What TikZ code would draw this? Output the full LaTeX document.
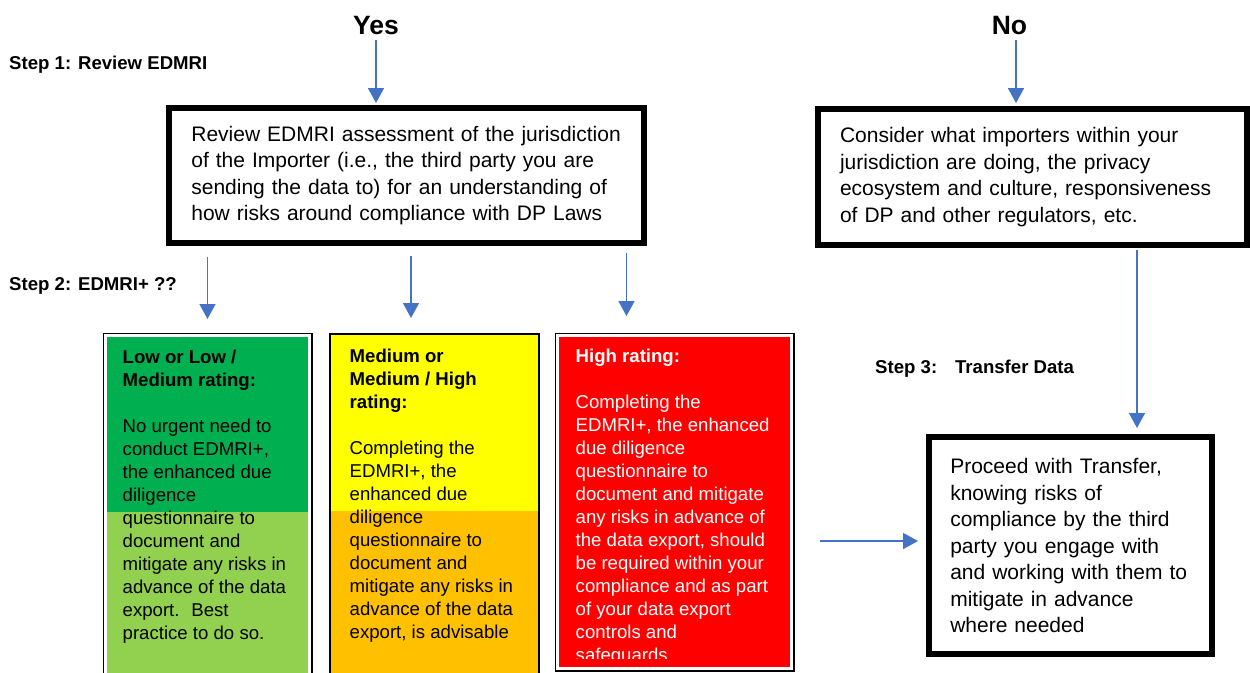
\documentclass[tikz,border=0pt]{standalone}
\usepackage{fontspec}
\setmainfont{Liberation Sans}
\usetikzlibrary{
  positioning,
  calc,
  arrows.meta}
\definecolor{lowdark}{RGB}{0,176,80}
\definecolor{lowlight}{RGB}{146,208,80}
\definecolor{midtop}{RGB}{255,255,0}
\definecolor{midlow}{RGB}{255,192,0}
\definecolor{highred}{RGB}{255,0,0}
\definecolor{flowcolor}{RGB}{68,114,196}
\tikzset{
  %% answer : the Yes / No headings
  answer/.style={
    font=\fontsize{26.5}{32}\selectfont\bfseries,
    anchor=base,
    inner sep=0pt
  },
  %% steplabel : the step captions
  steplabel/.style={
    font=\fontsize{18.6}{23}\selectfont\bfseries,
    anchor=base west,
    inner sep=0pt
  },
  %% taskbox : white box with a heavy frame
  taskbox/.style={
    rectangle,
    draw=black,
    line width=6pt,
    fill=white,
    align=left,
    inner sep=0pt,
    font=\fontsize{21}{26.5}\selectfont
  },
  %% ratebox : coloured rating box
  ratebox/.style={
    rectangle,
    anchor=north west,
    inner sep=0pt,
    outer sep=0pt
  },
  %% framed : thin black frame outside a white rim
  framed/.style={
    preaction={draw=black, line width=6pt},
    draw=white,
    line width=3pt
  },
  %% split : lower part of a rating box in a second colour
  split/.style 2 args={
    path picture={
      \fill [#1] ([yshift=-#2]path picture bounding box.north west)
      rectangle (path picture bounding box.south east);
    }
  },
  %% ratetext : text inside a rating box
  ratetext/.style={
    align=left,
    inner sep=0pt,
    font=\fontsize{18.6}{23}\selectfont
  },
  %% flow : blue connector
  flow/.style={
    draw=flowcolor,
    line width=1.5pt,
    -{Triangle[width=16pt, length=15pt]}
  }
}

\begin{document}
\begin{tikzpicture}
  [x=1pt,
  y=-1pt]
  \useasboundingbox (0, 0) rectangle (1250, 672);
  \clip (0, 0) rectangle (1250, 672);

  %% Headings
  \node (yes) [answer] at (376, 34.3) {Yes};
  \node (no) [answer] at (1009.5, 34) {No};
  \node (step1) [steplabel] at (9, 69.3) {Step 1: Review EDMRI};
  \node (step2) [steplabel] at (9, 290.5) {Step 2: EDMRI+ ??};
  \node (step3) [steplabel] at (875, 373) {Step 3:\hspace{11pt} Transfer Data};

  %% Step 1
  \node (review) [taskbox, minimum width=474.7pt, minimum height=135pt,
  text width=430pt] at (406.35, 175.5) {%
    Review EDMRI assessment of the jurisdiction\\
    of the Importer (i.e., the third party you are\\
    sending the data to) for an understanding of\\
    how risks around compliance with DP Laws};

  \node (consider) [taskbox, minimum width=429pt, minimum height=136.3pt,
  text width=385pt] at (1032.5, 177.2) {%
    Consider what importers within your\\
    jurisdiction are doing, the privacy\\
    ecosystem and culture, responsiveness\\
    of DP and other regulators, etc.};

  %% Step 2: rating boxes
  \node (low) [ratebox, framed, fill=lowdark, split={lowlight}{176.5pt},
  minimum width=204pt, minimum height=365pt] at (105.5, 335.5) {};
  \node (lowtxt) [ratetext, below right=14.3pt and 17pt of low.north west]{%
    \textbf{Low or Low /}\\
    \textbf{Medium rating:}\\[23pt]
    No urgent need to\\
    conduct EDMRI+,\\
    the enhanced due\\
    diligence\\
    questionnaire to\\
    document and\\
    mitigate any risks in\\
    advance of the data\\
    export.\hspace{5pt} Best\\
    practice to do so.};

  \node (mid) [ratebox, draw=black, line width=2pt, fill=midtop,
  split={midlow}{177pt}, minimum width=208.5pt, minimum height=370pt]
  at (330, 334) {};
  \node (midtxt) [ratetext, below right=14.7pt and 19.5pt of mid.north west]{%
    \textbf{Medium or}\\
    \textbf{Medium / High}\\
    \textbf{rating:}\\[23pt]
    Completing the\\
    EDMRI+, the\\
    enhanced due\\
    diligence\\
    questionnaire to\\
    document and\\
    mitigate any risks in\\
    advance of the data\\
    export, is advisable};

  \node (high) [ratebox, framed, fill=highred, minimum width=234pt,
  minimum height=333pt] at (557.5, 335.5) {};
  \begin{scope}
    \clip (high.north west) rectangle ($(high.south east)+(0,-10)$);
    \node (hightxt) [ratetext, text=white,
    below right=13.2pt and 18pt of high.north west]{%
      \textbf{High rating:}\\[23pt]
      Completing the\\
      EDMRI+, the enhanced\\
      due diligence\\
      questionnaire to\\
      document and mitigate\\
      any risks in advance of\\
      the data export, should\\
      be required within your\\
      compliance and as part\\
      of your data export\\
      controls and\\
      safeguards.};
  \end{scope}

  %% Step 3
  \node (proceed) [taskbox, minimum width=282.5pt, minimum height=217pt,
  text width=240pt] at (1070.25, 545.5) {%
    Proceed with Transfer,\\
    knowing risks of\\
    compliance by the third\\
    party you engage with\\
    and working with them to\\
    mitigate in advance\\
    where needed};

  %% Connections
  \draw [flow, shorten >=2pt] ([yshift=-5.7pt]yes.south) -- (yes.south |- review.north);
  \coordinate (nofoot) at ($(no.south)+(6.5,6)$);
  \draw [flow, shorten >=3pt] (nofoot) -- (nofoot |- consider.north);

  \draw [flow] ($(review.south -| low.north)+(0,11)$) -- ($(low.north)+(0,-16.5)$);
  \draw [flow] ($(review.south -| mid.north)+(-23.25,10)$) -- ($(mid.north)+(-23.25,-16)$);
  \draw [flow] ($(review.south -| high.north)+(-48,7)$) -- ($(high.north)+(-48,-19.5)$);

  \coordinate (drop) at ($(consider.south)+(104.5,2)$);
  \draw [flow, shorten >=6pt] (drop) -- (drop |- proceed.north);
  \coordinate (feed) at (820, 541);
  \draw [flow, shorten >=8pt] (feed) -- (feed -| proceed.west);

\end{tikzpicture}
\end{document}
